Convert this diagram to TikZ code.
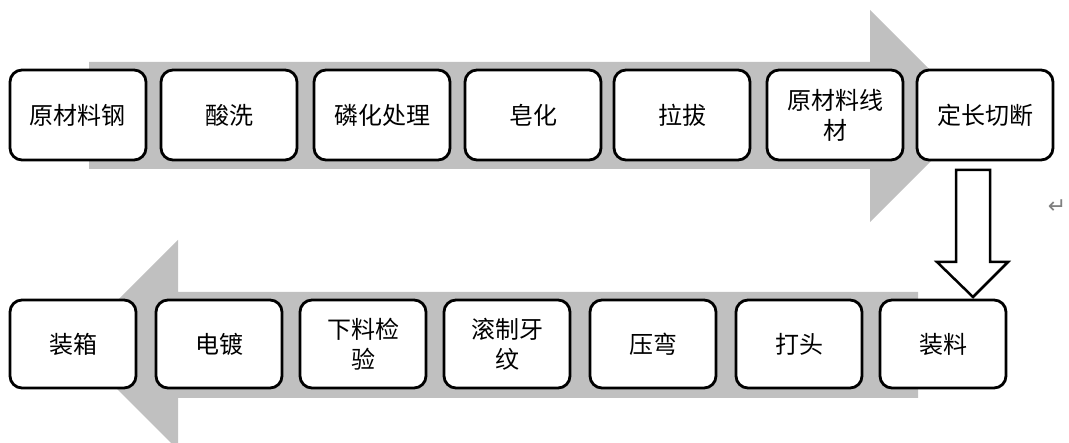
\documentclass[tikz,border=0pt]{standalone}
\usepackage{fontspec}
\setmainfont{Noto Sans CJK SC}
\newfontfamily\symfont{DejaVu Sans}
\definecolor{bandgray}{HTML}{C0C0C0}
\definecolor{markgray}{HTML}{808080}
\tikzset{
  stepbox/.style={draw=black, fill=white, line width=2.8pt, rounded corners=12pt,
    inner sep=0pt, align=center, font=\fontsize{24}{30}\selectfont},
  topbox/.style={stepbox, minimum width=136pt, minimum height=90pt},
  botbox/.style={stepbox, minimum width=126pt, minimum height=88pt},
  band/.style={fill=bandgray, draw=none},
}
\begin{document}
\begin{tikzpicture}[x=1pt, y=-1pt]
\useasboundingbox (0,0) rectangle (1069,443);
% gray background arrows
\fill[band] (89,62) -- (870,62) -- (870,10) -- (976,116) -- (870,222) -- (870,169) -- (89,169) -- cycle;
\fill[band] (918,292) -- (178,292) -- (178,240) -- (73,345) -- (178,450) -- (178,398) -- (918,398) -- cycle;
% top row
\node[topbox] (t1) at (78,115) {原材料钢};
\node[topbox] (t2) at (229,115) {酸洗};
\node[topbox] (t3) at (382,115) {磷化处理};
\node[topbox] (t4) at (533,115) {皂化};
\node[topbox] (t5) at (682,115) {拉拔};
\node[topbox] (t6) at (835,115) {原材料线\\材};
\node[topbox] (t7) at (985,115) {定长切断};
% bottom row
\node[botbox] (b1) at (73,344) {装箱};
\node[botbox] (b2) at (219,344) {电镀};
\node[botbox] (b3) at (363,344) {下料检\\验};
\node[botbox] (b4) at (507,344) {滚制牙\\纹};
\node[botbox] (b5) at (653,344) {压弯};
\node[botbox] (b6) at (799,344) {打头};
\node[botbox] (b7) at (943,344) {装料};
% down block arrow
\draw[line width=2.5pt, fill=white, line join=miter]
  (956,170) -- (990,170) -- (990,262) -- (1008,262) -- (973,297) -- (937,262) -- (956,262) -- cycle;
% paragraph mark
\node[text=markgray, font=\symfont\fontsize{22}{22}\selectfont, inner sep=0pt] (pm) at (1057,207) {↵};
\end{tikzpicture}
\end{document}
